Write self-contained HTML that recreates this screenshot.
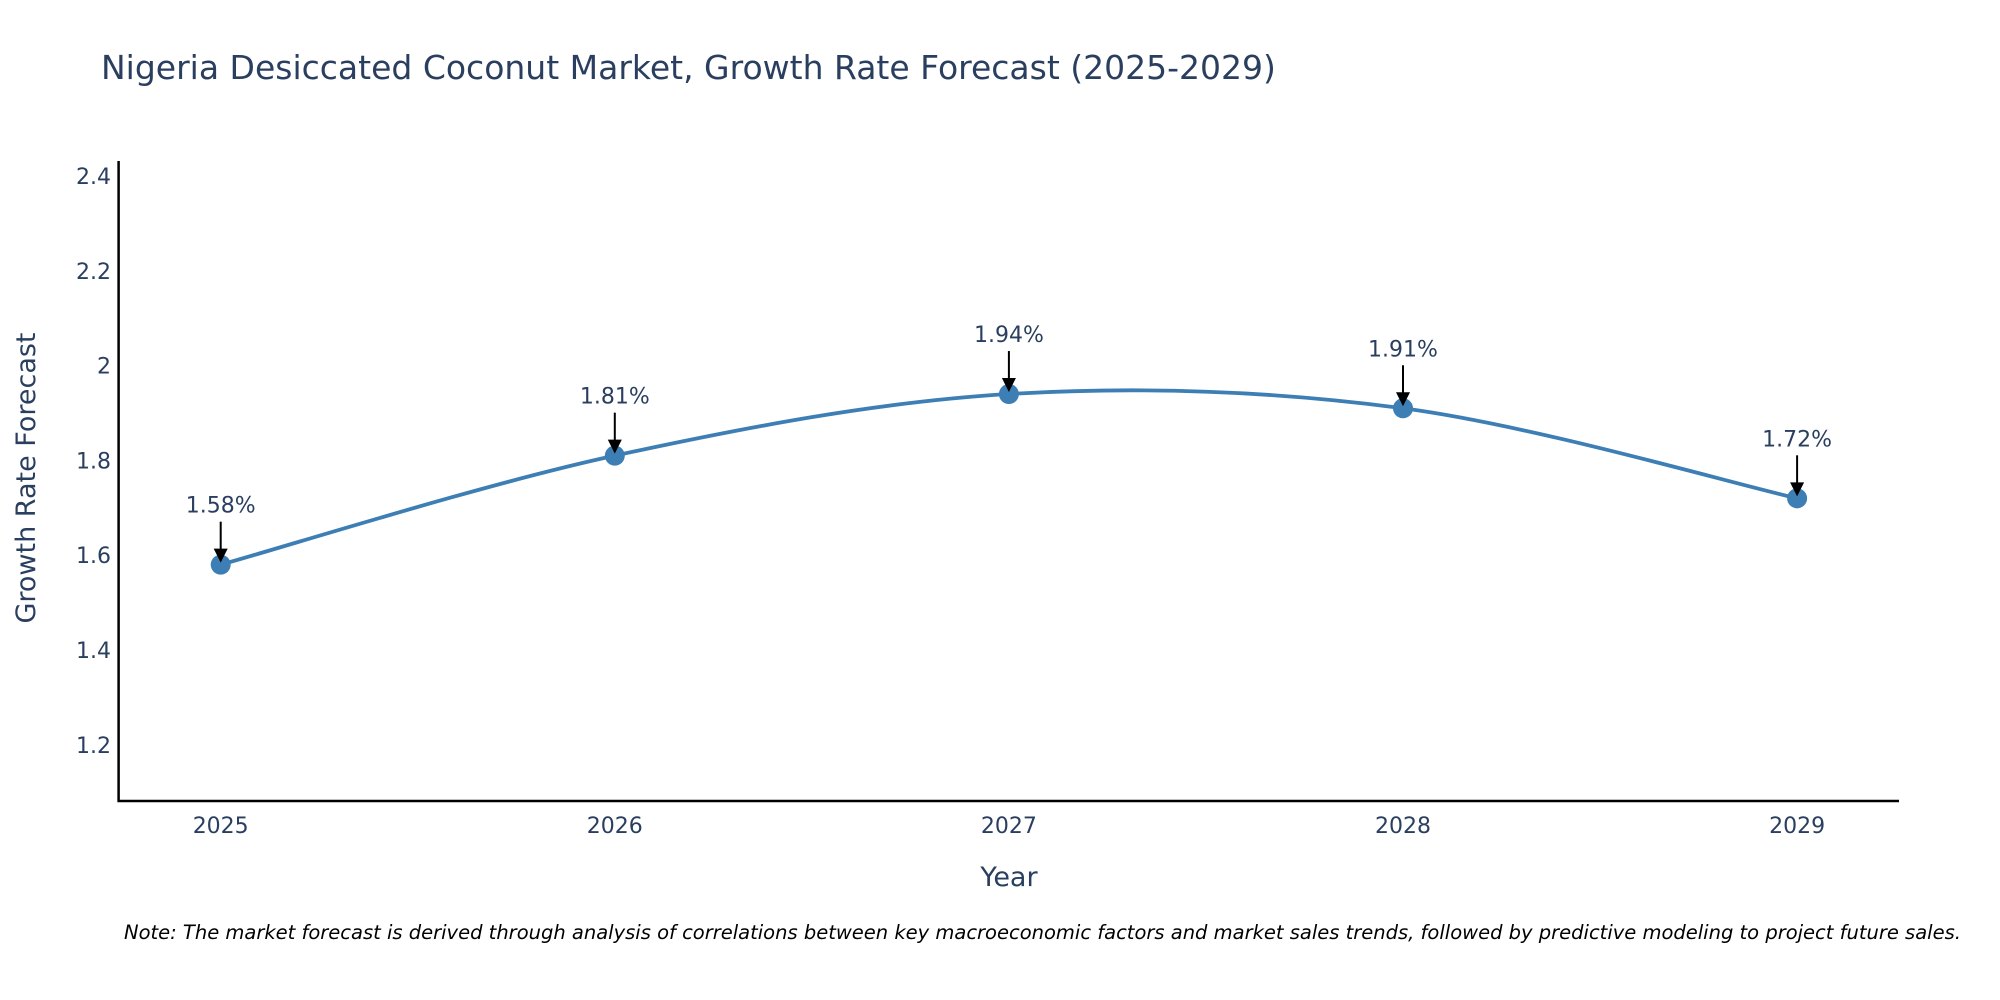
<!DOCTYPE html>
<html><head><meta charset="utf-8"><style>
html,body{margin:0;padding:0;background:#fff;overflow:hidden;}
svg{display:block;font-family:"DejaVu Sans","Liberation Sans",sans-serif;}
</style></head><body>
<svg id="chart" width="2000" height="1000" viewBox="0 0 2000 1000">
<rect width="2000" height="1000" fill="#fff"/>
<text x="101" y="79" font-size="33" fill="#2a3f5f">Nigeria Desiccated Coconut Market, Growth Rate Forecast (2025-2029)</text>
<g id="yticks"></g>
<g id="xticks"></g>
<line x1="118.6" y1="161" x2="118.6" y2="802" stroke="#000" stroke-width="2.5"/>
<line x1="117.5" y1="801" x2="1899" y2="801" stroke="#000" stroke-width="2.5"/>
<path id="line" fill="none" stroke="#3d7fb5" stroke-width="3.8"/>
<g id="points"></g>
<g id="annos"></g>
<text x="1009" y="886" font-size="27" fill="#2a3f5f" text-anchor="middle">Year</text>
<text transform="translate(35,478) rotate(-90)" font-size="27" fill="#2a3f5f" text-anchor="middle">Growth Rate Forecast</text>
<text x="124" y="939" font-size="19.5" font-style="italic" fill="#000">Note: The market forecast is derived through analysis of correlations between key macroeconomic factors and market sales trends, followed by predictive modeling to project future sales.</text>
<defs><marker id="ah" viewBox="0 0 10 10" refX="9" refY="5" markerWidth="7" markerHeight="7" markerUnits="userSpaceOnUse" orient="auto"><path d="M0,0 L10,5 L0,10 z" fill="#000"/></marker></defs>
</svg>
<script>
const years = [2025, 2026, 2027, 2028, 2029];
const growth = [1.58, 1.81, 1.94, 1.91, 1.72];
const labels = ["1.58%", "1.81%", "1.94%", "1.91%", "1.72%"];
const yTickValues = [1.2, 1.4, 1.6, 1.8, 2.0, 2.2, 2.4];
const yTickLabels = ["1.2", "1.4", "1.6", "1.8", "2", "2.2", "2.4"];

const NS = "http://www.w3.org/2000/svg";
function xScale(yr){ return 220.7 + (yr - 2025) * 394.1; }
function yScale(v){ return 176 + (2.4 - v) * 474; }
function mk(tag, attrs, parent){ const e=document.createElementNS(NS,tag); for(const k in attrs) e.setAttribute(k,attrs[k]); parent.appendChild(e); return e; }

const yt=document.getElementById('yticks');
yTickValues.forEach((v,i)=>{
  const t=mk('text',{x:111,y:yScale(v)+8,'font-size':22,fill:'#2a3f5f','text-anchor':'end'},yt);
  
  
  t.textContent=yTickLabels[i];
});
const xt=document.getElementById('xticks');
years.forEach(y=>{
  const t=mk('text',{x:xScale(y),y:833,'font-size':22,fill:'#2a3f5f','text-anchor':'middle'},xt);
  
  
  t.textContent=String(y);
});

const pts=years.map((y,i)=>[xScale(y),yScale(growth[i])]);
let d='M'+pts[0][0]+','+pts[0][1];
for(let i=0;i<pts.length-1;i++){
  const p0=pts[Math.max(0,i-1)],p1=pts[i],p2=pts[i+1],p3=pts[Math.min(pts.length-1,i+2)];
  const c1=[p1[0]+(p2[0]-p0[0])/6,p1[1]+(p2[1]-p0[1])/6];
  const c2=[p2[0]-(p3[0]-p1[0])/6,p2[1]-(p3[1]-p1[1])/6];
  d+=' C'+c1+' '+c2+' '+p2;
}
document.getElementById('line').setAttribute('d',d);

const pg=document.getElementById('points'), ag=document.getElementById('annos');
pts.forEach((p,i)=>{
  const c=mk('circle',{cx:p[0],cy:p[1],r:10,fill:'#3d7fb5'},pg);
  
  
  const l=mk('line',{x1:p[0],y1:p[1]-43,x2:p[0],y2:p[1]-4,stroke:'#000','stroke-width':2,'marker-end':'url(#ah)'},ag);
  
  
  const h=mk('path',{d:'M'+(p[0]-7)+','+(p[1]-16)+' L'+(p[0]+7)+','+(p[1]-16)+' L'+p[0]+','+(p[1]-2)+' Z',fill:'#000'},ag);
  
  
  const t=mk('text',{x:p[0],y:p[1]-52,'font-size':22,fill:'#2a3f5f','text-anchor':'middle'},ag);
  
  
  t.textContent=labels[i];
});
</script>
</body></html>
